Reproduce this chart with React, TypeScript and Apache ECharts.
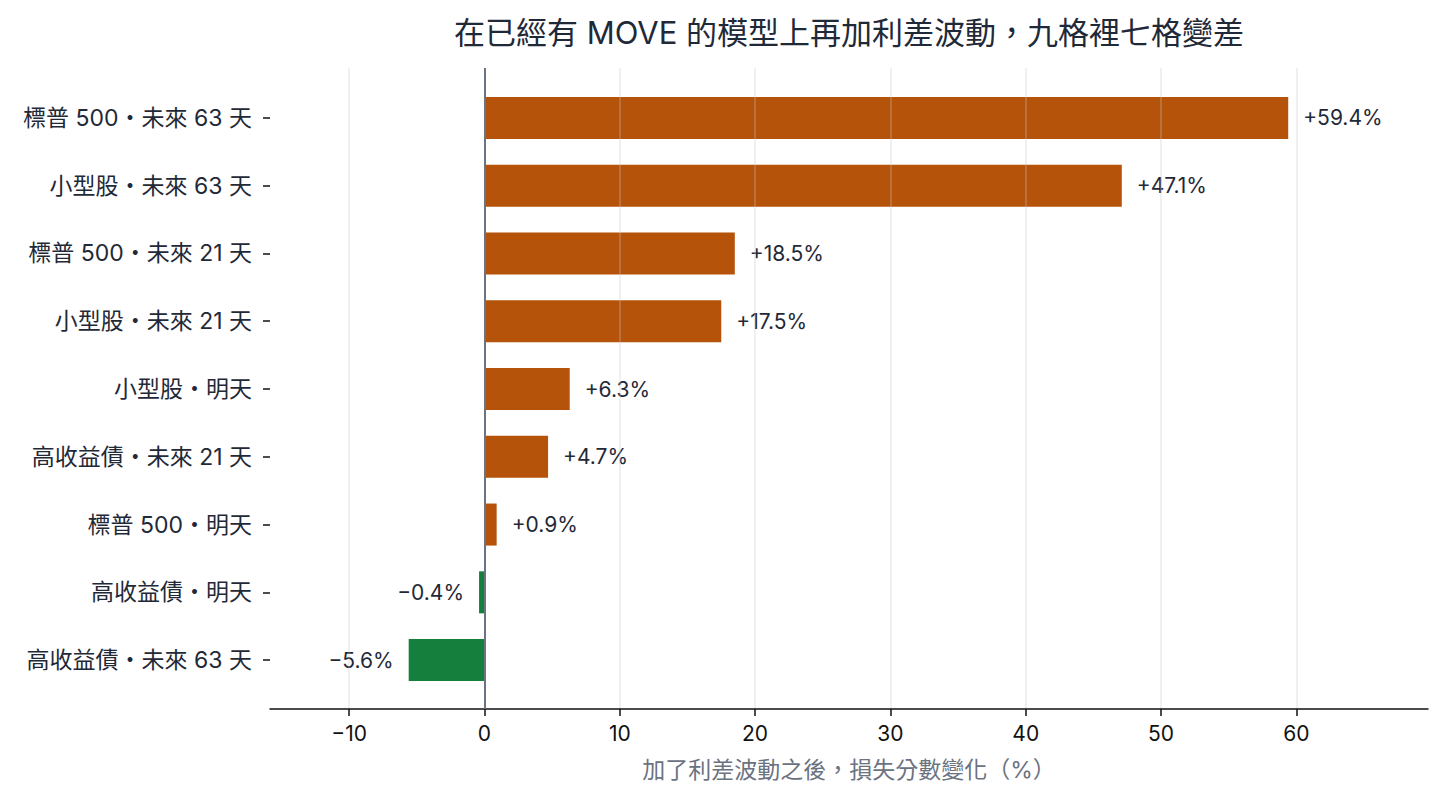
import React, { useEffect, useRef } from "react";
import * as echarts from "echarts";

const categories = [
  "標普 500・未來 63 天",
  "小型股・未來 63 天",
  "標普 500・未來 21 天",
  "小型股・未來 21 天",
  "小型股・明天",
  "高收益債・未來 21 天",
  "標普 500・明天",
  "高收益債・明天",
  "高收益債・未來 63 天",
];
const changes = [59.4, 47.1, 18.5, 17.5, 6.3, 4.7, 0.9, -0.4, -5.6];
const xTicks = [-10, 0, 10, 20, 30, 40, 50, 60];

const FONT = "Inter, 'Noto Sans CJK TC', sans-serif";
const WORSE = "#b45309";
const BETTER = "#15803d";

const fmtSigned = (v: number) => (v < 0 ? "\u2212" + Math.abs(v) : String(v));

export default function App() {
  const chartRef = useRef<HTMLDivElement>(null);

  useEffect(() => {
    if (!chartRef.current) return;
    document.body.style.margin = "0";
    const chart = echarts.init(chartRef.current, undefined, { renderer: "svg" });

    const xMin = -15.85;
    const xMax = 69.73;

    const option: any = {
      animation: false,
      backgroundColor: "#ffffff",
      textStyle: { fontFamily: FONT },
      title: {
        text: "在已經有 MOVE 的模型上再加利差波動，九格裡七格變差",
        left: 844,
        top: 12,
        textAlign: "center",
        textStyle: { fontFamily: FONT, fontSize: 31, fontWeight: "normal", color: "#1f2937" },
      },
      grid: [
        { left: 270, right: 16, top: 68, bottom: 90 },
        { left: 270, right: 16, top: 84, bottom: 105 },
      ],
      xAxis: [
        {
          gridIndex: 0,
          type: "value",
          z: 4,
          min: xMin,
          max: xMax,
          name: "加了利差波動之後，損失分數變化（%）",
          nameLocation: "middle",
          nameGap: 49,
          nameTextStyle: { fontFamily: FONT, fontSize: 23, color: "#6b7280" },
          axisLine: { show: true, lineStyle: { color: "#111111", width: 1.5 } },
          axisTick: { show: true, length: 7, lineStyle: { color: "#111111", width: 1.5 }, customValues: xTicks },
          axisLabel: {
            customValues: xTicks,
            margin: 14,
            fontFamily: FONT,
            fontSize: 21,
            color: "#111111",
            formatter: (v: number) => fmtSigned(v),
          },
          // translucent so the lines show faintly across the bars
          splitLine: { show: true, lineStyle: { color: "rgba(200,200,200,0.36)", width: 1.5 } },
        },
        { gridIndex: 1, type: "value", min: xMin, max: xMax, show: false },
      ],
      yAxis: [
        { gridIndex: 0, type: "value", min: 0, max: 1, show: false },
        {
          gridIndex: 1,
          type: "category",
          inverse: true,
          data: categories,
          axisLine: { show: false, onZero: false },
          axisTick: { show: true, alignWithLabel: true, length: 7, lineStyle: { color: "#111111", width: 1.5 } },
          axisLabel: { margin: 18, fontFamily: FONT, fontSize: 23, color: "#1f2937" },
        },
      ],
      series: [
        {
          type: "bar",
          xAxisIndex: 1,
          yAxisIndex: 1,
          barWidth: "62%",
          z: 3,
          data: changes.map((v) => ({
            value: v,
            itemStyle: { color: v < 0 ? BETTER : WORSE },
            label: { position: v < 0 ? "left" : "right" },
          })),
          label: {
            show: true,
            distance: 15,
            fontFamily: FONT,
            fontSize: 21,
            color: "#1f2937",
            formatter: (p: any) => (p.value > 0 ? "+" : "\u2212") + Math.abs(p.value).toFixed(1) + "%",
          },
        },
        {
          type: "line",
          xAxisIndex: 0,
          yAxisIndex: 0,
          data: [],
          z: 5,
          markLine: {
            silent: true,
            symbol: "none",
            label: { show: false },
            lineStyle: { color: "#6b7280", width: 2, type: "solid" },
            data: [{ xAxis: 0 }],
          },
        },
      ],
    };

    chart.setOption(option);
    return () => chart.dispose();
  }, []);

  return <div ref={chartRef} style={{ width: 1444, height: 799 }} />;
}
